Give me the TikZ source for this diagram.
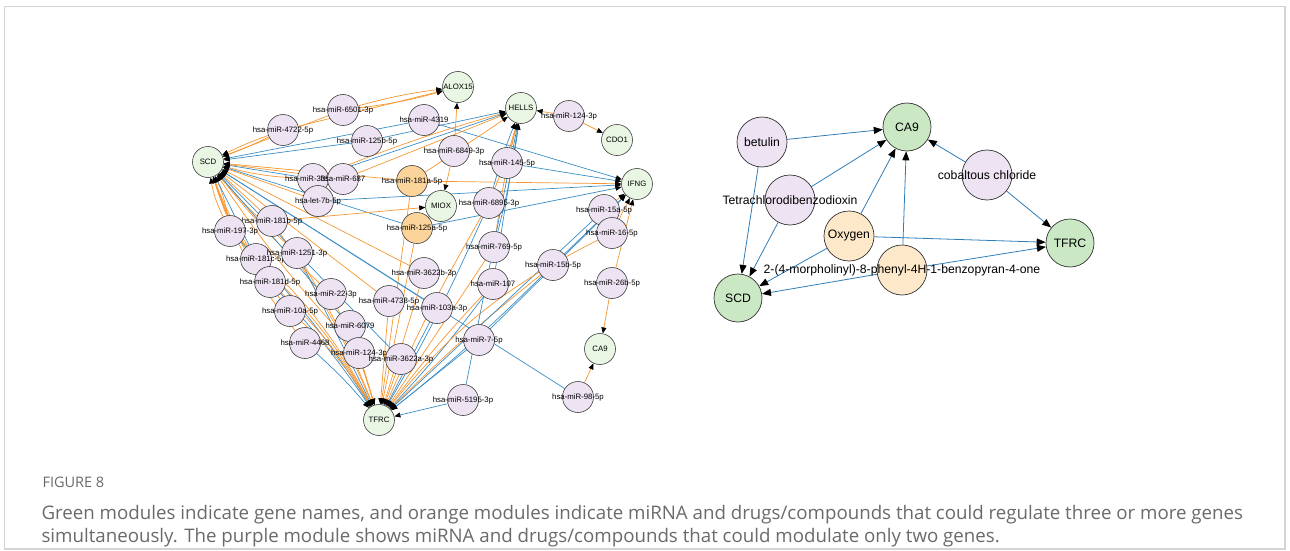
\documentclass[tikz,border=0pt]{standalone}
\usepackage{fontspec}
\setmainfont{Liberation Sans}
\newfontfamily\capfont{Open Sans}
\usetikzlibrary{arrows.meta}
\definecolor{genegreen}{HTML}{EAF6E4}
\definecolor{rgreen}{HTML}{C9E8C3}
\definecolor{mirpurple}{HTML}{EDE3F3}
\definecolor{huborange}{HTML}{FBD49B}
\definecolor{rorange}{HTML}{FDE8C9}
\definecolor{edgeorange}{HTML}{F7962F}
\definecolor{edgeblue}{HTML}{3B8DC6}
\definecolor{rblue}{HTML}{2F7DB7}
\definecolor{framegray}{HTML}{D4D4D4}
\definecolor{capgray}{HTML}{6A6A6A}
\pgfdeclarelayer{edges}
\pgfsetlayers{edges,main}
\tikzset{
  gene/.style={circle,draw=black!75,fill=genegreen,minimum size=31pt,inner sep=0pt,line width=0.6pt},
  mir/.style={gene,fill=mirpurple},
  hub/.style={gene,fill=huborange},
  lbl/.style={font=\fontsize{7.8}{9}\selectfont},
  eo/.style={draw=edgeorange,line width=0.7pt,-{Triangle[length=6pt,width=5pt,color=black]}},
  eb/.style={eo,draw=edgeblue},
  rgene/.style={circle,draw=black!80,fill=rgreen,minimum size=48pt,inner sep=0pt,line width=0.7pt},
  rmir/.style={rgene,fill=mirpurple,minimum size=50pt},
  rhub/.style={rgene,fill=rorange,minimum size=50pt},
  rlbl/.style={font=\fontsize{12.2}{14}\selectfont},
  redge/.style={draw=rblue,line width=0.8pt,-{Triangle[length=9pt,width=7pt,color=black]}}
}
\begin{document}
\begin{tikzpicture}[x=1pt,y=-1pt]
\useasboundingbox (0,0) rectangle (1290,551);
\draw[framegray,line width=1.2pt] (4.5,6.5) rectangle (1285,549);

% left network: genes
\foreach \n/\x/\y/\t in {scd/208/162/SCD, alox/458/87/ALOX15, hells/521/108/HELLS,
    cdo/617/140/CDO1, ifng/637/184/IFNG, miox/441/206/MIOX, ca9l/600/349/CA9, tfrc/379/420/TFRC}
  \node[gene,label={[lbl]center:\t}] (\n) at (\x,\y) {};
% miRNAs linked to two genes
\foreach \n/\x/\y/\t in {m6501/343/110/hsa-miR-6501-3p, m4722/283/130/hsa-miR-4722-5p,
    m4319/424/120/hsa-miR-4319, m125b/367/141/hsa-miR-125b-5p, m6849/454/151/hsa-miR-6849-3p,
    m335/313/179/hsa-miR-335-5p, m687/343/179/hsa-miR-687, let7b/318/201/hsa-let-7b-5p,
    m145/507/163/hsa-miR-145-5p, m6895/489/203/hsa-miR-6895-3p, m124a/569/116/hsa-miR-124-3p,
    m181b/272/221/hsa-miR-181b-5p, m197/230/231/hsa-miR-197-3p, m181c/256/259/hsa-miR-181c-5p,
    m1251/297/253/hsa-miR-1251-3p, m181d/270/282/hsa-miR-181d-5p, m22/331/294/hsa-miR-22-3p,
    m10a/290/311/hsa-miR-10a-5p, m6079/350/326/hsa-miR-6079, m4468/305/343/hsa-miR-4468,
    m124b/359/353/hsa-miR-124-3p, m3622b/424/273/hsa-miR-3622b-3p, m4738/389/301/hsa-miR-4738-5p,
    m103a/437/308/hsa-miR-103a-3p, m3622a/401/359/hsa-miR-3622a-3p, m769/494/247/hsa-miR-769-5p,
    m107/493/284/hsa-miR-107, m7/479/340/hsa-miR-7-5p, m5195/463/400/hsa-miR-5195-3p,
    m15b/553/265/hsa-miR-15b-5p, m15a/604/210/hsa-miR-15a-5p, m16/612/233/hsa-miR-16-5p,
    m26b/612/283/hsa-miR-26b-5p, m98/578/397/hsa-miR-98-5p}
  \node[mir,label={[lbl]center:\t}] (\n) at (\x,\y) {};
% miRNAs linked to three or more genes
\node[hub,label={[lbl]center:hsa-miR-181a-5p}] (m181a) at (412,181) {};
\node[hub,label={[lbl]center:hsa-miR-125a-5p}] (m125a) at (417,228) {};

\begin{pgfonlayer}{edges}
\foreach \s/\t/\c/\b in {m6501/alox/eo/4, m6501/alox/eo/-4, m6501/scd/eo/0,
    m4722/alox/eo/0, m4722/scd/eo/3, m4722/scd/eo/-3,
    m4319/scd/eb/0, m4319/ifng/eb/0, m125b/scd/eb/0, m125b/hells/eb/0,
    m6849/alox/eo/0, m6849/miox/eo/0,
    m335/scd/eb/0, m335/scd/eo/6, m335/hells/eb/0, m335/hells/eo/3,
    m687/scd/eo/0, m687/hells/eo/0, let7b/scd/eo/0, let7b/ifng/eb/0,
    m181a/scd/eo/0, m181a/ifng/eo/0, m181a/tfrc/eo/0, m181a/hells/eo/0,
    m125a/scd/eb/0, m125a/miox/eo/0, m125a/tfrc/eo/0, m125a/ifng/eb/0,
    m145/hells/eo/0, m145/ifng/eb/0,
    m6895/hells/eb/3, m6895/hells/eo/-3, m6895/tfrc/eb/3, m6895/tfrc/eo/-3,
    m124a/hells/eo/0, m124a/cdo/eo/0,
    m769/hells/eo/3, m769/hells/eb/-3, m769/tfrc/eo/0,
    m107/hells/eb/0, m107/tfrc/eb/3, m107/tfrc/eo/-3,
    m7/ifng/eb/0, m7/tfrc/eb/0, m15b/ifng/eb/0, m15b/tfrc/eb/3, m15b/tfrc/eo/-3,
    m15a/ifng/eo/0, m15a/tfrc/eb/0, m16/ifng/eo/0, m16/tfrc/eo/-12,
    m26b/ifng/eo/0, m26b/ca9l/eo/0, m98/ca9l/eo/0, m98/scd/eb/0,
    m5195/tfrc/eb/0, m5195/hells/eb/0,
    m181b/miox/eo/0, m181b/tfrc/eo/5, m181b/scd/eo/0,
    m197/scd/eo/8, m197/scd/eo/-8, m197/tfrc/eo/10, m197/tfrc/eb/6,
    m181c/scd/eo/6, m181c/scd/eb/0, m181c/tfrc/eo/8,
    m1251/scd/eo/4, m1251/tfrc/eo/4, m1251/tfrc/eb/0,
    m181d/scd/eo/8, m181d/tfrc/eo/8, m181d/tfrc/eb/4,
    m22/scd/eo/4, m22/tfrc/eo/4, m10a/scd/eo/10, m10a/tfrc/eo/8,
    m6079/scd/eb/0, m6079/tfrc/eo/0, m4468/scd/eo/10, m4468/tfrc/eb/4,
    m124b/scd/eo/4, m124b/tfrc/eo/0, m4738/scd/eo/0, m4738/tfrc/eo/0,
    m103a/scd/eb/0, m103a/tfrc/eb/0, m3622b/scd/eo/0, m3622b/tfrc/eo/0,
    m3622a/scd/eb/0, m3622a/tfrc/eo/0}
  \draw[\c] (\s) to[bend left=\b] (\t);
\end{pgfonlayer}

% right network: drugs and compounds
\node[rgene,label={[rlbl]center:CA9}] (rca9) at (907,127) {};
\node[rgene,label={[rlbl]center:SCD}] (rscd) at (738,298) {};
\node[rgene,label={[rlbl]center:TFRC}] (rtfrc) at (1070,243) {};
\node[rmir,label={[rlbl]center:betulin}] (betulin) at (762,142) {};
\node[rmir,label={[rlbl]center:Tetrachlorodibenzodioxin}] (tcdd) at (790,200) {};
\node[rmir,label={[rlbl]center:cobaltous chloride}] (cocl) at (987,175) {};
\node[rhub,label={[rlbl]center:Oxygen}] (oxy) at (849,236) {};
\node[rhub,label={[rlbl]center:2-(4-morpholinyl)-8-phenyl-4H-1-benzopyran-4-one}] (morph) at (902,270) {};
\begin{pgfonlayer}{edges}
\foreach \s/\t in {betulin/rca9, betulin/rscd, tcdd/rca9, tcdd/rscd, oxy/rca9, oxy/rtfrc,
    oxy/rscd, morph/rca9, morph/rtfrc, morph/rscd, cocl/rca9, cocl/rtfrc}
  \draw[redge] (\s) -- (\t);
\end{pgfonlayer}

% caption
\node[anchor=base west,text=capgray,font=\capfont\fontsize{14.5}{17}\selectfont] (fig) at (39,487) {FIGURE 8};
\node[anchor=base west,text=capgray,font=\capfont\fontsize{18.7}{22}\selectfont] (cap1) at (38,519)
  {Green modules indicate gene names, and orange modules indicate miRNA and drugs/compounds that could regulate three or more genes};
\node[anchor=base west,text=capgray,font=\capfont\fontsize{18.7}{22}\selectfont] (cap2) at (38,542)
  {simultaneously. The purple module shows miRNA and drugs/compounds that could modulate only two genes.};
\end{tikzpicture}
\end{document}
